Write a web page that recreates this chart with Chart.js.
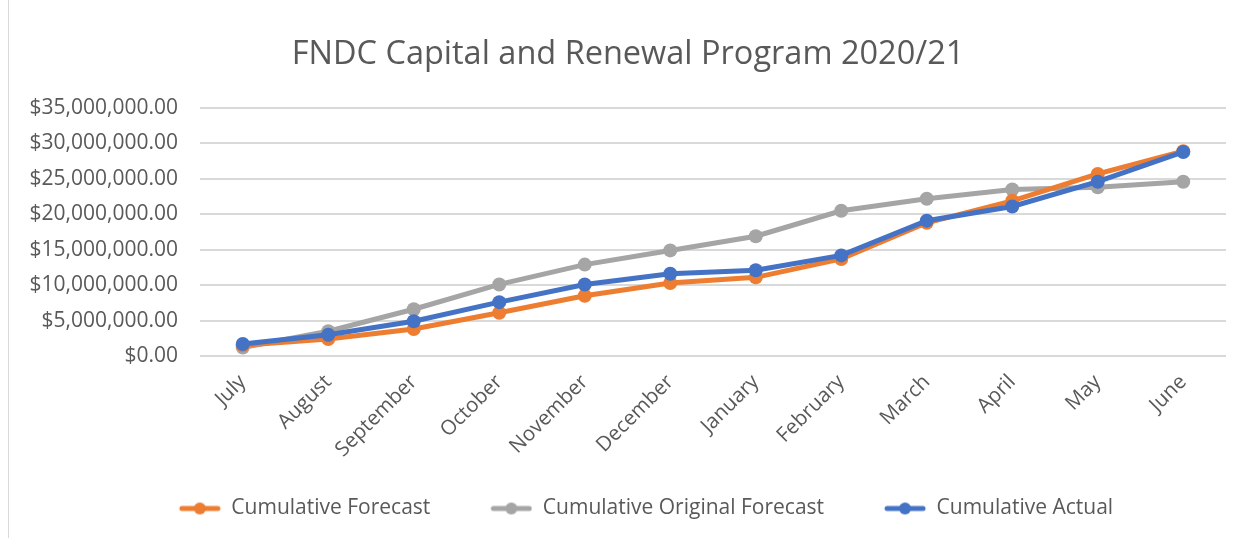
<!DOCTYPE html>
<html>
<head>
<meta charset="utf-8">
<script src="https://cdn.jsdelivr.net/npm/chart.js@4.4.1/dist/chart.umd.min.js"></script>
<style>
  html, body { margin: 0; padding: 0; background: #fff; }
  #wrap { position: absolute; left: 0; top: 0; width: 1242px; height: 538px; }
  #frame { position: absolute; left: 8px; top: -2px; width: 1240px; height: 545px; border: 1px solid #d9d9d9; }
</style>
</head>
<body>
<div id="wrap">
  <div id="frame"></div>
  <canvas id="chart_0" width="1242" height="538"></canvas>
</div>
<script>
var months = ['July', 'August', 'September', 'October', 'November', 'December',
              'January', 'February', 'March', 'April', 'May', 'June'];
var cumForecast = [1500000, 2400000, 3800000, 6100000, 8500000, 10300000,
                   11100000, 13700000, 18800000, 21900000, 25700000, 28900000];
var cumOriginal = [1200000, 3500000, 6600000, 10100000, 12900000, 14900000,
                   16900000, 20500000, 22200000, 23500000, 23800000, 24600000];
var cumActual = [1700000, 3000000, 4900000, 7600000, 10100000, 11600000,
                 12100000, 14200000, 19100000, 21100000, 24600000, 28800000];

var txt = '#595959';
var fnt = '"Open Sans", sans-serif';

// legend marker: blank gap on the left, then line with a dot
function legendIcon(color) {
    var c = document.createElement('canvas');
    c.width = 78; c.height = 14;
    var g = c.getContext('2d');
    g.strokeStyle = color;
    g.lineWidth = 5;
    g.lineCap = 'round';
    g.beginPath(); g.moveTo(39, 7); g.lineTo(75, 7); g.stroke();
    g.fillStyle = color;
    g.beginPath(); g.arc(57, 7, 6, 0, Math.PI * 2); g.fill();
    return c;
}

function series(label, values, color, order) {
    return {
        label: label,
        data: values,
        borderColor: color,
        backgroundColor: color,
        borderWidth: 5,
        pointRadius: 7,
        pointHoverRadius: 7,
        pointBorderWidth: 0,
        pointStyle: 'circle',
        tension: 0,
        order: order,
        legendIcon: legendIcon(color)
    };
}

const data = {
    labels: months,
    datasets: [
        series('Cumulative Forecast', cumForecast, '#ED7D31', 1),
        series('Cumulative Original Forecast', cumOriginal, '#A5A5A5', 2),
        series('Cumulative Actual', cumActual, '#4472C4', 0)
    ]
};

const config = {
    type: 'line',
    data: data,
    options: {
        responsive: false,
        animation: false,
        layout: { padding: { left: 30, right: 16, top: 35, bottom: 9 } },
        plugins: {
            tooltip: { enabled: false },
            title: {
                display: true,
                text: 'FNDC Capital and Renewal Program 2020/21',
                color: txt,
                font: { family: fnt, size: 32.5, weight: 'normal' },
                padding: { top: 0, bottom: 34 }
            },
            legend: {
                position: 'bottom',
                labels: {
                    color: txt,
                    font: { family: fnt, size: 21 },
                    usePointStyle: true,
                    pointStyleWidth: 78,
                    boxHeight: 14,
                    padding: 24,
                    generateLabels: function (chart) {
                        return chart.data.datasets.map(function (ds, i) {
                            return {
                                text: ds.label,
                                fontColor: txt,
                                pointStyle: ds.legendIcon,
                                datasetIndex: i,
                                hidden: false,
                                lineWidth: 0
                            };
                        });
                    }
                }
            }
        },
        scales: {
            x: {
                offset: true,
                grid: { display: false },
                border: { display: false },
                ticks: {
                    color: txt,
                    font: { family: fnt, size: 20.5 },
                    maxRotation: 45,
                    minRotation: 45,
                    autoSkip: false,
                    padding: 6
                },
                afterFit: function (s) { s.height = 118; }
            },
            y: {
                min: 0,
                max: 35000000,
                grid: { color: '#d9d9d9', lineWidth: 2, drawTicks: false },
                border: { display: false },
                ticks: {
                    stepSize: 5000000,
                    color: txt,
                    font: { family: fnt, size: 21 },
                    padding: 22,
                    callback: function (v) {
                        return '$' + Number(v).toLocaleString('en-US', { minimumFractionDigits: 2, maximumFractionDigits: 2 });
                    }
                },
                afterFit: function (s) { s.width = 170; }
            }
        }
    }
};

const myChart = new Chart(document.getElementById('chart_0'), config);
</script>
</body>
</html>
